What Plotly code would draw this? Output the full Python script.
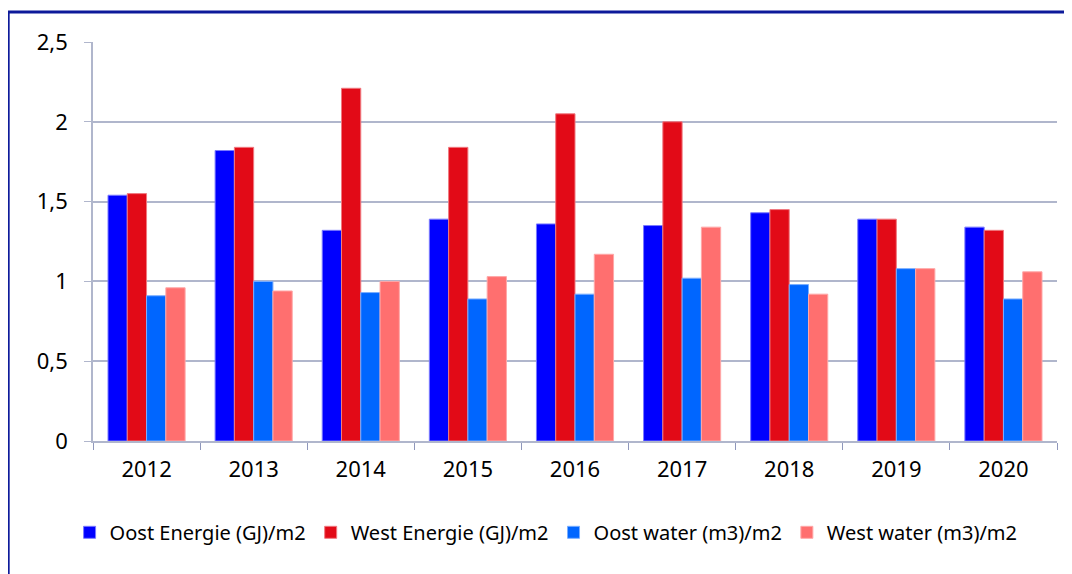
import plotly.graph_objects as go

years = ["2012", "2013", "2014", "2015", "2016", "2017", "2018", "2019", "2020"]
oost_energie = [1.54, 1.82, 1.32, 1.39, 1.36, 1.35, 1.43, 1.39, 1.34]
west_energie = [1.55, 1.84, 2.21, 1.84, 2.05, 2.00, 1.45, 1.39, 1.32]
oost_water = [0.91, 1.00, 0.93, 0.89, 0.92, 1.02, 0.98, 1.08, 0.89]
west_water = [0.96, 0.94, 1.00, 1.03, 1.17, 1.34, 0.92, 1.08, 1.06]

series = [
    ("Oost Energie (GJ)/m2", oost_energie, "#0000FF", "#7A7AFF"),
    ("West Energie (GJ)/m2", west_energie, "#E20A17", "#F07A80"),
    ("Oost water (m3)/m2", oost_water, "#0066FF", "#7AAEFF"),
    ("West water (m3)/m2", west_water, "#FF6F6F", "#FFA8A8"),
]

fig = go.Figure()
for name, vals, col, edge in series:
    fig.add_trace(go.Bar(
        x=years, y=vals, name=name,
        marker=dict(color=col, line=dict(color=edge, width=1)),
    ))

# page body adds an 8px margin, so the figure is sized a little smaller
fig.update_layout(
    width=1064, height=566,
    barmode="group", bargap=0.28, bargroupgap=0,
    separators=",.",
    font=dict(family="Noto Sans, sans-serif", size=20, color="#000000"),
    plot_bgcolor="white", paper_bgcolor="white",
    margin=dict(l=85, r=15, t=34, b=133, autoexpand=False),
    legend=dict(orientation="h", x=0.47, xanchor="center", y=-0.18, yanchor="top",
                font=dict(size=20), itemwidth=30, traceorder="normal"),
    shapes=[dict(type="rect", xref="paper", yref="paper",
                 x0=-0.088, x1=1.2, y0=-0.6, y1=1.075,
                 line=dict(color="#0D1A9A", width=3), layer="below")],
)
fig.update_yaxes(range=[0, 2.5], dtick=0.5, showgrid=True, gridcolor="#B0B6CC", gridwidth=1.5,
                 zeroline=False, showline=True, linecolor="#B0B6CC", linewidth=1.5,
                 ticks="outside", ticklen=7, tickcolor="#B0B6CC", tickformat="~g",
                 ticklabelstandoff=12, tickfont=dict(size=22))
fig.update_xaxes(showline=True, linecolor="#B0B6CC", linewidth=1.5,
                 ticks="outside", tickson="boundaries", ticklen=7, tickcolor="#8F97BB",
                 ticklabelstandoff=8, tickfont=dict(size=22))

fig.write_html("out.html")
